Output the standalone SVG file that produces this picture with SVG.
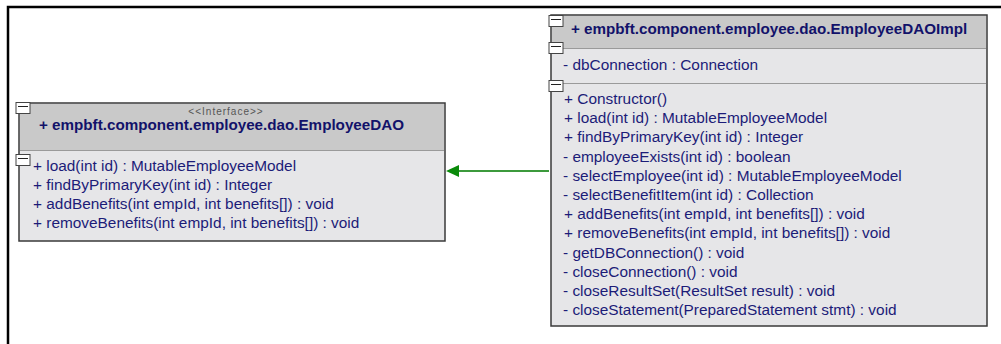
<svg xmlns="http://www.w3.org/2000/svg" width="1001" height="344" viewBox="0 0 1001 344">
<defs>
<style>
.frame{fill:none;stroke:#000;stroke-width:2.5}
.box{fill:#e6e6e8;stroke:#3a3a3a;stroke-width:1.5}
.hdr{fill:#c9c9c9}
.sep{stroke:#9a9a9a;stroke-width:1}
.tog{fill:#fff;stroke:#444;stroke-width:1}
.togm{stroke:#222;stroke-width:1}
.t{font-family:"Liberation Sans",Arial,sans-serif;font-size:15.4px;fill:#1c1c78}
.b{font-family:"Liberation Sans",Arial,sans-serif;font-size:15.2px;font-weight:bold;fill:#12126a}
.st{font-family:"Liberation Sans",Arial,sans-serif;font-size:10px;fill:#555;letter-spacing:1px}
.conn{stroke:#3c9a3c;stroke-width:2;fill:none}
.head{fill:#0a8a0a}
</style>
</defs>
<rect width="1001" height="344" fill="#fff"/>
<path class="frame" d="M8,344 V7 H1001"/>

<g id="EmployeeDAO">
<rect class="box" x="19" y="103" width="426" height="138"/>
<rect class="hdr" x="20" y="104" width="424" height="46"/>
<line class="sep" x1="20" y1="150.5" x2="444" y2="150.5"/>
<rect class="tog" x="16" y="102.5" width="14" height="11"/>
<line class="togm" x1="18" y1="106.5" x2="28" y2="106.5"/>
<rect class="tog" x="16" y="154.5" width="14" height="11"/>
<line class="togm" x1="18" y1="158.5" x2="28" y2="158.5"/>
<text class="st" x="226" y="115" text-anchor="middle">&lt;&lt;Interface&gt;&gt;</text>
<text class="b" x="39" y="130">+ empbft.component.employee.dao.EmployeeDAO</text>
<text class="t" x="33" y="171">+ load(int id) : MutableEmployeeModel</text>
<text class="t" x="33" y="190">+ findByPrimaryKey(int id) : Integer</text>
<text class="t" x="33" y="209">+ addBenefits(int empId, int benefits[]) : void</text>
<text class="t" x="33" y="228">+ removeBenefits(int empId, int benefits[]) : void</text>
</g>

<g id="EmployeeDAOImpl">
<rect class="box" x="551" y="15" width="436" height="311"/>
<rect class="hdr" x="552" y="16" width="434" height="32"/>
<line class="sep" x1="552" y1="48.5" x2="986" y2="48.5"/>
<line class="sep" x1="552" y1="83.5" x2="986" y2="83.5"/>
<rect class="tog" x="549" y="15.5" width="14" height="11"/>
<line class="togm" x1="551" y1="19.5" x2="561" y2="19.5"/>
<rect class="tog" x="549" y="42.5" width="14" height="11"/>
<line class="togm" x1="551" y1="46.5" x2="561" y2="46.5"/>
<rect class="tog" x="549" y="80.5" width="14" height="11"/>
<line class="togm" x1="551" y1="84.5" x2="561" y2="84.5"/>
<text class="b" x="571" y="34">+ empbft.component.employee.dao.EmployeeDAOImpl</text>
<text class="t" x="563" y="70">- dbConnection : Connection</text>
<text class="t" x="564" y="104">+ Constructor()</text>
<text class="t" x="564" y="123.2">+ load(int id) : MutableEmployeeModel</text>
<text class="t" x="564" y="142.4">+ findByPrimaryKey(int id) : Integer</text>
<text class="t" x="563" y="161.6">- employeeExists(int id) : boolean</text>
<text class="t" x="563" y="180.8">- selectEmployee(int id) : MutableEmployeeModel</text>
<text class="t" x="563" y="200">- selectBenefitItem(int id) : Collection</text>
<text class="t" x="564" y="219.2">+ addBenefits(int empId, int benefits[]) : void</text>
<text class="t" x="564" y="238.4">+ removeBenefits(int empId, int benefits[]) : void</text>
<text class="t" x="563" y="257.6">- getDBConnection() : void</text>
<text class="t" x="563" y="276.8">- closeConnection() : void</text>
<text class="t" x="563" y="296">- closeResultSet(ResultSet result) : void</text>
<text class="t" x="563" y="315.2">- closeStatement(PreparedStatement stmt) : void</text>
</g>

<g id="connectors">
<line class="conn" x1="549" y1="171" x2="456" y2="171"/>
<polygon class="head" points="446,171 459,165 459,177"/>
</g>
</svg>
